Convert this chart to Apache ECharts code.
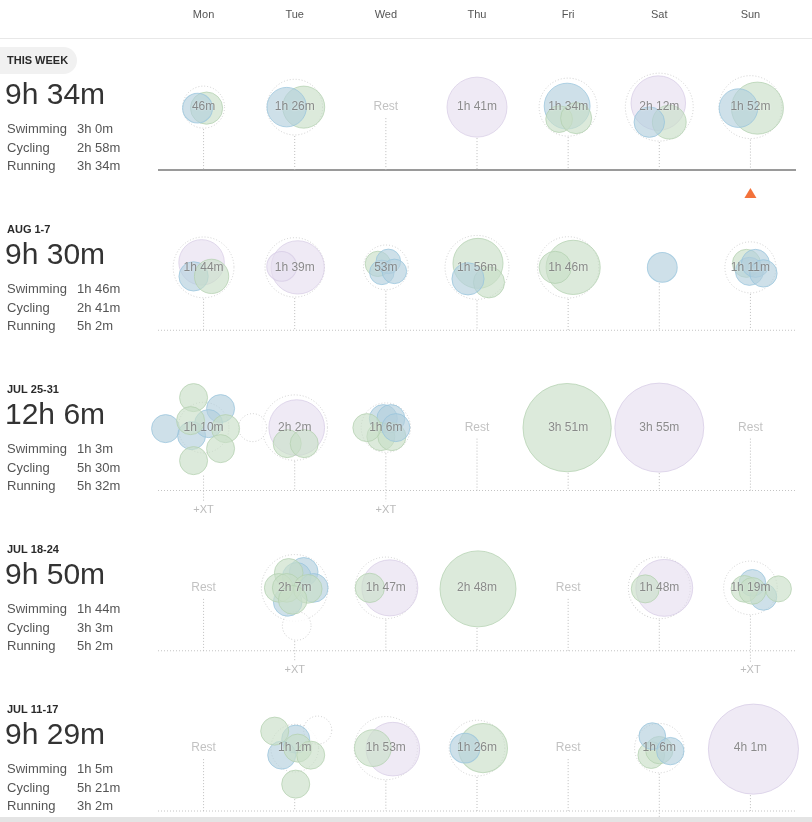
<!DOCTYPE html>
<html>
<head>
<meta charset="utf-8">
<script src="https://cdn.jsdelivr.net/npm/echarts@6/dist/echarts.min.js"></script>
<style>
  html, body { margin: 0; padding: 0; background: #fff; }
  #chart { width: 812px; height: 822px; }
</style>
</head>
<body>
<div id="chart"></div>
<script>
const days = ['Mon', 'Tue', 'Wed', 'Thu', 'Fri', 'Sat', 'Sun'];
const weekNames = ['THIS WEEK', 'AUG 1-7', 'JUL 25-31', 'JUL 18-24', 'JUL 11-17'];
const weekTotals = ['9h 34m', '9h 30m', '12h 6m', '9h 50m', '9h 29m'];
const sportNames = ['Swimming', 'Cycling', 'Running'];
const swimTotals = ['3h 0m', '1h 46m', '1h 3m', '1h 44m', '1h 5m'];
const bikeTotals = ['2h 58m', '2h 41m', '5h 30m', '3h 3m', '5h 21m'];
const runTotals = ['3h 34m', '5h 2m', '5h 32m', '5h 2m', '3h 2m'];

// label shown in the middle of each day, per week
const dayLabels = [
  ['46m', '1h 26m', 'Rest', '1h 41m', '1h 34m', '2h 12m', '1h 52m'],
  ['1h 44m', '1h 39m', '53m', '1h 56m', '1h 46m', '', '1h 11m'],
  ['1h 10m', '2h 2m', '1h 6m', 'Rest', '3h 51m', '3h 55m', 'Rest'],
  ['Rest', '2h 7m', '1h 47m', '2h 48m', 'Rest', '1h 48m', '1h 19m'],
  ['Rest', '1h 1m', '1h 53m', '1h 26m', 'Rest', '1h 6m', '4h 1m']
];

// days with extra cross training: [week, day]
const xtDays = [[2, 0], [2, 2], [3, 1], [3, 6], [4, 5]];
const today = [0, 6];

// single workouts: week, day, sport, minutes
const workouts = [
  [0,0,'bike',25],[0,0,'swim',21],
  [0,1,'bike',46],[0,1,'swim',40],
  [0,3,'run',101],
  [0,4,'swim',56],[0,4,'bike',16],[0,4,'bike',23],
  [0,5,'run',82],[0,5,'bike',28],[0,5,'swim',22],
  [0,6,'bike',74],[0,6,'swim',38],

  [1,0,'run',55],[1,0,'swim',20],[1,0,'bike',29],
  [1,1,'run',78],[1,1,'run',21],
  [1,2,'bike',14],[1,2,'swim',13],[1,2,'swim',13],[1,2,'swim',13],
  [1,3,'bike',68],[1,3,'bike',23],[1,3,'swim',25],
  [1,4,'bike',81],[1,4,'bike',25],
  [1,5,'swim',21],
  [1,6,'bike',18],[1,6,'swim',18],[1,6,'swim',18],[1,6,'swim',17],

  [2,0,'xt',18],[2,0,'swim',18],[2,0,'swim',18],[2,0,'swim',18],[2,0,'swim',18],[2,0,'bike',18],[2,0,'bike',18],[2,0,'bike',18],[2,0,'bike',18],[2,0,'bike',18],
  [2,1,'run',86],[2,1,'bike',18],[2,1,'bike',18],
  [2,2,'swim',18],[2,2,'swim',18],[2,2,'bike',18],[2,2,'bike',18],[2,2,'bike',18],[2,2,'swim',18],
  [2,4,'bike',231],
  [2,5,'run',235],

  [3,1,'xt',19],[3,1,'swim',19],[3,1,'swim',19],[3,1,'swim',19],[3,1,'swim',19],[3,1,'bike',19],[3,1,'bike',19],[3,1,'bike',19],[3,1,'bike',19],[3,1,'bike',19],
  [3,2,'run',87],[3,2,'bike',20],
  [3,3,'bike',168],
  [3,5,'run',90],[3,5,'bike',18],
  [3,6,'swim',16],[3,6,'swim',16],[3,6,'bike',16],[3,6,'bike',16],[3,6,'bike',15],

  [4,1,'xt',18],[4,1,'swim',18],[4,1,'swim',18],[4,1,'bike',18],[4,1,'bike',18],[4,1,'bike',18],[4,1,'bike',18],
  [4,2,'run',79],[4,2,'bike',34],
  [4,3,'bike',65],[4,3,'swim',21],
  [4,5,'bike',16],[4,5,'bike',17],[4,5,'swim',16],[4,5,'swim',17],
  [4,6,'run',241]
];

// how the bubbles of one day are packed round its centre (px), same order as workouts
const packing = [
  [3,1],[-6,1],
  [9,0],[-8,0],
  [0,0],
  [-1,-1],[-9,12],[8,11],
  [-1,-4],[10,15],[-10,15],
  [7,1],[-12,1],

  [-2,-5],[-10,9],[8,9],
  [3,0],[-13,-1],
  [-8,-3.5],[-4,5],[2.5,-6],[8.5,4],
  [1,-4],[12,15],[-9,11.5],
  [5,0],[-13,0],
  [3,0],
  [-4,-4],[-1,4],[5,-4],[13,6],

  [49,0],[-38,1],[17,-19],[-12,8],[5,-4],[-10,-30],[-13,-7],[22,1],[17,21],[-10,33],
  [2,0],[-7.5,16],[9.5,16],
  [-2.5,-9],[5,-9],[-5,9],[6,9],[-19,0],[10,0],
  [-1,0],
  [0,0],

  [2,38],[9,-16],[2,-11],[19,0],[-7,14],[-6,-15],[-16,0],[-8,0],[13,1],[-2,12],
  [4,0],[-16,0],
  [1,1],
  [5,0],[-14,1],
  [2,-5],[13,9],[-6,1],[2,3],[28,1],

  [23,-18],[1,-9],[-13,7],[-20,-17],[3,0],[16,7],[1,36],
  [7,1],[-13,0],
  [6,0],[-12,0],
  [-8,7],[0,2],[-7,-12],[11,3],
  [3,1]
];

// layout: one week row is ROW px tall, grid starts at GRID_TOP
const ROW = 160.25;
const GRID_TOP = 27;
const GRID_H = 795;
const BASE = (170 - GRID_TOP) / ROW;   // baseline of a week row, in row units
const FONT = '"Liberation Sans", Arial, sans-serif';

const sportStyle = {
  swim: { color: 'rgba(179,207,221,0.8)', borderColor: 'rgba(150,195,220,0.9)', borderWidth: 1 },
  bike: { color: 'rgba(201,222,199,0.8)', borderColor: 'rgba(178,208,174,0.9)', borderWidth: 1 },
  run:  { color: 'rgba(230,222,239,0.8)', borderColor: 'rgba(214,203,228,0.9)', borderWidth: 1 },
  xt:   { color: '#fff', borderColor: '#c4c4c4', borderWidth: 1, borderType: [1, 2] }
};

function bubbleSize(min) {
  return 5.5 * Math.sqrt(min) + 4.7;
}

function parseDur(s) {
  const h = s.match(/(\d+)h/), m = s.match(/(\d+)m/);
  return (h ? +h[1] * 60 : 0) + (m ? +m[1] : 0);
}

const chart = echarts.init(document.getElementById('chart'));

// bubbles and per day stats
const bubbleData = [];
const dayInfo = {};
workouts.forEach((wk, i) => {
  const [w, d, sport, min] = wk;
  const [dx, dy] = packing[i];
  const size = bubbleSize(min);
  bubbleData.push({
    value: [d, w + 0.5],
    symbolSize: size,
    symbolOffset: [dx, dy],
    itemStyle: sportStyle[sport]
  });
  const key = w + '_' + d;
  if (!dayInfo[key]) dayInfo[key] = { count: 0, sum: 0, bottom: 0 };
  if (sport !== 'xt') { dayInfo[key].count++; dayInfo[key].sum += min; }
  dayInfo[key].bottom = Math.max(dayInfo[key].bottom, dy + size / 2);
});

const ringData = [];
const labelData = [];
const stemData = [];
const isXt = (w, d) => xtDays.some(p => p[0] === w && p[1] === d);

dayLabels.forEach((row, w) => {
  row.forEach((lab, d) => {
    const info = dayInfo[w + '_' + d];
    const rest = lab === 'Rest';
    labelData.push({
      value: [d, w + 0.5],
      name: lab,
      label: { color: rest ? '#b3b3b3' : '#707070' }
    });
    let top = 11;
    if (info) {
      const total = lab ? parseDur(lab) : info.sum;
      top = info.bottom + 1;
      if (info.count > 1) {
        const r = bubbleSize(total);
        ringData.push({ value: [d, w + 0.5], symbolSize: r });
        top = Math.max(top, r / 2 + 1);
      }
    }
    stemData.push([d, w, top, isXt(w, d) ? 11 : 0]);
  });
});

const baselines = weekNames.map((_, w) => ({
  type: 'line',
  xAxisIndex: 1,
  yAxisIndex: 0,
  data: [[0, w + BASE], [7, w + BASE]],
  symbol: 'none',
  silent: true,
  z: 1,
  lineStyle: w === 0
    ? { color: '#9a9a9a', width: 2, type: 'solid' }
    : { color: '#c4c4c4', width: 1, type: [1, 2] }
}));

// left column
const graphics = [
  { type: 'line', shape: { x1: 0, y1: 38.5, x2: 812, y2: 38.5 }, style: { stroke: '#e8e8e8', lineWidth: 1 } },
  { type: 'rect', z: 100, shape: { x: 0, y: 817, width: 812, height: 5 }, style: { fill: '#e4e4e4' } },
  { type: 'rect', shape: { x: -14, y: 47, width: 91, height: 27, r: 13.5 }, style: { fill: '#f1f1f1' } }
];
weekNames.forEach((name, w) => {
  const y0 = 160 * w;
  const txt = (text, x, y, size, color, bold) => ({
    type: 'text', x: x, y: y,
    style: { text: text, fill: color, font: (bold ? 'bold ' : '') + size + 'px ' + FONT, align: 'left', verticalAlign: 'middle' }
  });
  graphics.push(txt(name, 7, w === 0 ? 60.5 : 70 + y0, 11, '#2a2a2a', true));
  graphics.push(txt(weekTotals[w], 5, 96 + y0, 30, '#333'));
  const vals = [swimTotals[w], bikeTotals[w], runTotals[w]];
  sportNames.forEach((s, i) => {
    const y = [129, 148, 166][i] + y0;
    graphics.push(txt(s, 7, y, 13, '#555'));
    graphics.push(txt(vals[i], 77, y, 13, '#555'));
  });
});

chart.setOption({
  animation: false,
  backgroundColor: '#fff',
  grid: { left: 158, top: GRID_TOP, width: 638, height: GRID_H, outerBoundsMode: 'none' },
  xAxis: [
    {
      type: 'category', data: days, position: 'top', boundaryGap: true,
      axisLine: { show: false }, axisTick: { show: false }, splitLine: { show: false },
      axisLabel: { color: '#555', fontSize: 11, fontFamily: FONT, margin: 6.5 }
    },
    { type: 'value', min: 0, max: 7, show: false }
  ],
  yAxis: { type: 'value', min: 0, max: GRID_H / ROW, inverse: true, show: false },
  graphic: graphics,
  series: [
    ...baselines,
    {
      type: 'custom',
      xAxisIndex: 0,
      silent: true,
      z: 2,
      data: stemData,
      renderItem: (params, api) => {
        const d = api.value(0), w = api.value(1);
        const c = api.coord([d, w + 0.5]);
        const b = api.coord([d, w + BASE]);
        return {
          type: 'line',
          shape: { x1: c[0], y1: c[1] + api.value(2), x2: c[0], y2: b[1] + api.value(3) },
          style: { stroke: '#bdbdbd', lineWidth: 1, lineDash: [1, 2] }
        };
      }
    },
    {
      type: 'scatter',
      silent: true,
      z: 3,
      data: ringData,
      itemStyle: { color: 'rgba(255,255,255,0)', borderColor: '#c6c6c6', borderWidth: 1, borderType: [1, 2] }
    },
    {
      type: 'scatter',
      silent: true,
      z: 4,
      data: bubbleData
    },
    {
      type: 'scatter',
      silent: true,
      z: 6,
      symbolSize: 1,
      itemStyle: { color: 'rgba(0,0,0,0)' },
      data: labelData,
      label: {
        show: true, position: 'inside', formatter: '{b}',
        fontSize: 12, fontFamily: FONT,
        textShadowColor: 'rgba(255,255,255,0.9)', textShadowBlur: 2
      }
    },
    {
      type: 'scatter',
      silent: true,
      z: 6,
      symbolSize: 1,
      itemStyle: { color: 'rgba(0,0,0,0)' },
      data: xtDays.map(p => [p[1], p[0] + BASE]),
      label: {
        show: true, position: 'inside', offset: [0, 19], formatter: '+XT',
        fontSize: 11, fontFamily: FONT, color: '#aaa'
      }
    },
    {
      type: 'scatter',
      silent: true,
      z: 6,
      symbol: 'triangle',
      symbolSize: [12, 10],
      symbolOffset: [0, 23],
      itemStyle: { color: '#f04f0a' },
      data: [[today[1], today[0] + BASE]]
    }
  ]
});
</script>
</body>
</html>
